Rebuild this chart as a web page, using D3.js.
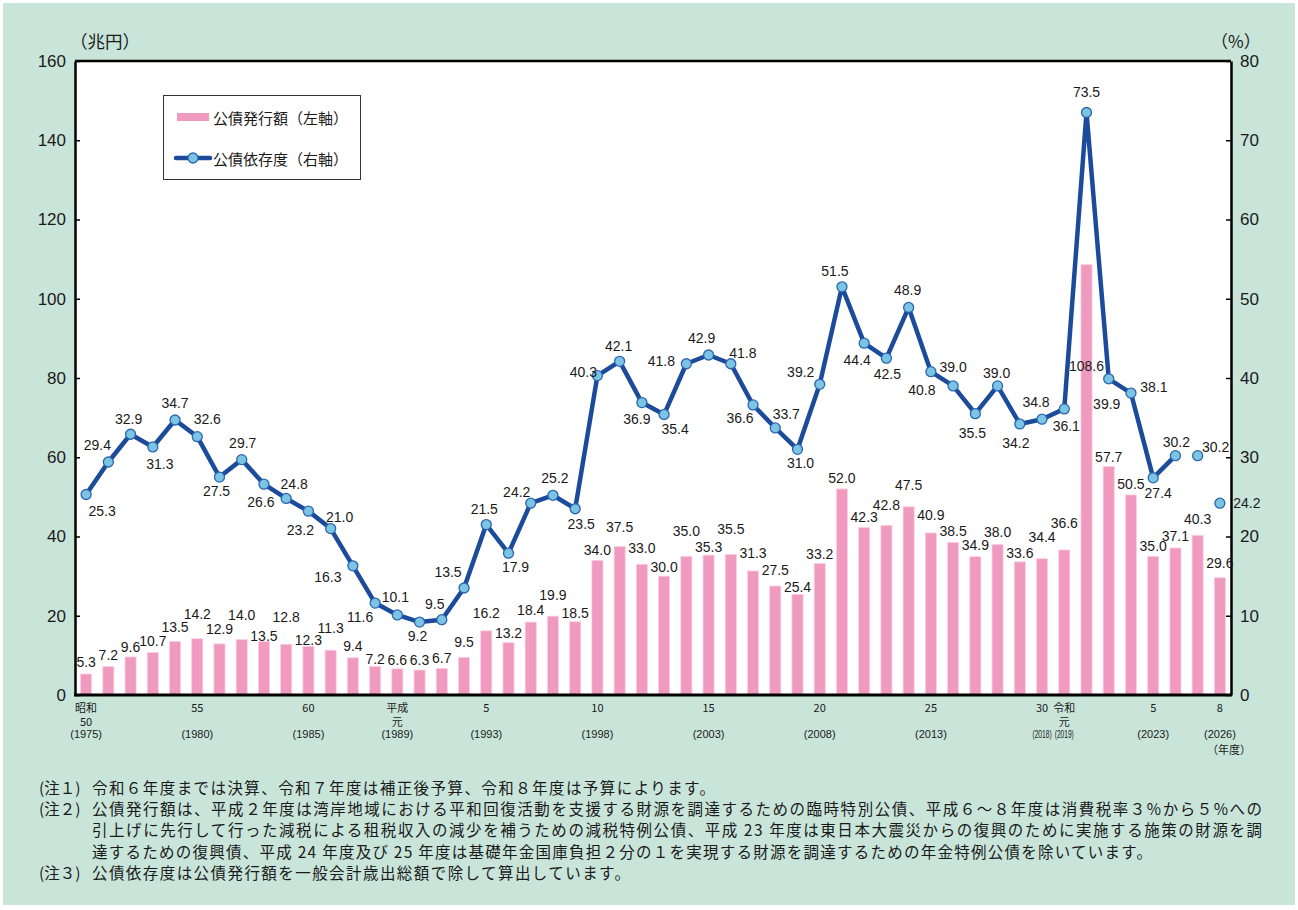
<!DOCTYPE html>
<html>
<head>
<meta charset="utf-8">
<script src="https://cdn.jsdelivr.net/npm/d3@7"></script>
<style>
  body { margin: 0; background: #fff; }
  text { font-family: "Liberation Sans", Arial, sans-serif; fill: #1a1a1a; }
  .jp { font-family: "Noto Sans CJK JP", sans-serif; }
</style>
</head>
<body>
<svg id="chart" width="1298" height="910"></svg>
<script>
// 年度 (1975 = 昭和50 ... 2026 = 令和8)
const years = d3.range(1975, 2027);

// 公債発行額（兆円）
const issuance = [
  5.3, 7.2, 9.6, 10.7, 13.5, 14.2, 12.9, 14.0, 13.5, 12.8,
  12.3, 11.3, 9.4, 7.2, 6.6, 6.3, 6.7, 9.5, 16.2, 13.2,
  18.4, 19.9, 18.5, 34.0, 37.5, 33.0, 30.0, 35.0, 35.3, 35.5,
  31.3, 27.5, 25.4, 33.2, 52.0, 42.3, 42.8, 47.5, 40.9, 38.5,
  34.9, 38.0, 33.6, 34.4, 36.6, 108.6, 57.7, 50.5, 35.0, 37.1,
  40.3, 29.6
];

// 公債依存度（%）
const ratio = [
  25.3, 29.4, 32.9, 31.3, 34.7, 32.6, 27.5, 29.7, 26.6, 24.8,
  23.2, 21.0, 16.3, 11.6, 10.1, 9.2, 9.5, 13.5, 21.5, 17.9,
  24.2, 25.2, 23.5, 40.3, 42.1, 36.9, 35.4, 41.8, 42.9, 41.8,
  36.6, 33.7, 31.0, 39.2, 51.5, 44.4, 42.5, 48.9, 40.8, 39.0,
  35.5, 39.0, 34.2, 34.8, 36.1, 73.5, 39.9, 38.1, 27.4, 30.2,
  30.2, 24.2
];
// 決算値は折れ線でつなぐ（令和6年度まで）
const lastSettledYear = 2024;

const leftTicks = [0, 20, 40, 60, 80, 100, 120, 140, 160];
const rightTicks = [0, 10, 20, 30, 40, 50, 60, 70, 80];

const xTickYears = [1975, 1980, 1985, 1989, 1993, 1998, 2003, 2008, 2013, 2018, 2019, 2023, 2026];
const xTickEra = ["昭和", "", "", "平成", "", "", "", "", "", "", "令和", "", ""];
const xTickNum = ["50", "55", "60", "元", "5", "10", "15", "20", "25", "30", "元", "5", "8"];
const xTickWestern = ["(1975)", "(1980)", "(1985)", "(1989)", "(1993)", "(1998)", "(2003)", "(2008)", "(2013)", "(2018)", "(2019)", "(2023)", "(2026)"];

const notes = [
  ["(注１)", "令和６年度までは決算、令和７年度は補正後予算、令和８年度は予算によります。"],
  ["(注２)", "公債発行額は、平成２年度は湾岸地域における平和回復活動を支援する財源を調達するための臨時特別公債、平成６～８年度は消費税率３%から５%への"],
  ["", "引上げに先行して行った減税による租税収入の減少を補うための減税特例公債、平成 23 年度は東日本大震災からの復興のために実施する施策の財源を調"],
  ["", "達するための復興債、平成 24 年度及び 25 年度は基礎年金国庫負担２分の１を実現する財源を調達するための年金特例公債を除いています。"],
  ["(注３)", "公債依存度は公債発行額を一般会計歳出総額で除して算出しています。"]
];
// widths the note lines run to in the original layout
const noteWidths = [623, 1170, 1170, 1060, 538];

// label nudges (px) so the numbers don't collide
const barLabelLift = [
  1, 0, -1, 1, 4, 14, 4, 14, -5, 16,
  -5, 11, 1, -4, -2, -1, -1, 4, 7, -1,
  1, 10, -2, -1, 8, 5, -2, 14, -3, 14,
  7, 5, -4, -2, 0, -1, 9, 11, 7, 0,
  1, 1, -2, 11, 16, -112, -2, 0, -1, 1,
  5, 4
];
const ratioLabelDx = [
  16, -11, -2, 7, 0, 10, -3, 1, -3, 8,
  -8, 9, -25, -15, -2, -2, -7, -16, -2, 7,
  -14, 2, 6, -14, -1, -5, 11, -25, -7, 12,
  -13, 11, 3, -19, -7, -7, 1, -1, -9, 0,
  -3, -1, -4, -6, 2, 0, -2, 23, 5, 1,
  18, 27
];
const ratioLabelDy = [
  17, -17, -15, 17, -17, -18, 14, -17, 18, -14,
  19, -12, 11, 14, -18, 14, -16, -16, -16, 14,
  -11, -17, 15, -4, -15, 16, 15, -3, -17, -11,
  13, -14, 14, -12, -16, 17, 16, -17, 18, -19,
  19, -13, 19, -17, 17, -21, 25, -6, 15, -14,
  -9, 0
];

const svg = d3.select("#chart");
const plot = { left: 75, right: 1231, top: 61, bottom: 695 };

const pink = "#f09ac0";
const blue = "#1c4b9c";
const dot = "#7cc4e4";

svg.append("rect")
  .attr("x", 3).attr("y", 3).attr("width", 1292).attr("height", 902)
  .attr("fill", "#c9e5da");
svg.append("rect")
  .attr("x", plot.left).attr("y", plot.top)
  .attr("width", plot.right - plot.left).attr("height", plot.bottom - plot.top)
  .attr("fill", "#fff");

const x = d3.scaleBand().domain(years).range([plot.left, plot.right])
  .paddingInner(0.5).paddingOuter(0.25);
const yL = d3.scaleLinear().domain([0, 160]).range([plot.bottom, plot.top]);
const yR = d3.scaleLinear().domain([0, 80]).range([plot.bottom, plot.top]);
const cx = yr => x(yr) + x.bandwidth() / 2;

const data = years.map((yr, i) => ({
  year: yr, issuance: issuance[i], ratio: ratio[i],
  lift: barLabelLift[i], dx: ratioLabelDx[i], dy: ratioLabelDy[i]
}));

// bars
svg.append("g").selectAll("rect").data(data).join("rect")
  .attr("x", d => x(d.year))
  .attr("y", d => yL(d.issuance))
  .attr("width", x.bandwidth())
  .attr("height", d => yL(0) - yL(d.issuance))
  .attr("fill", pink)
  .attr("stroke", "#fbd0e2").attr("stroke-width", 0.8);

// axes
const leftAxis = svg.append("g")
  .attr("transform", `translate(${plot.left},0)`)
  .call(d3.axisLeft(yL).tickValues(leftTicks).tickSizeInner(-5).tickSizeOuter(0).tickPadding(9));
const rightAxis = svg.append("g")
  .attr("transform", `translate(${plot.right},0)`)
  .call(d3.axisRight(yR).tickValues(rightTicks).tickSizeInner(-5).tickSizeOuter(0).tickPadding(9));
[leftAxis, rightAxis].forEach(a => {
  a.select(".domain").attr("stroke", "#000").attr("stroke-width", 2.5);
  a.selectAll(".tick line").attr("stroke", "#000").attr("stroke-width", 1.5);
  a.selectAll(".tick text").attr("font-size", 17).attr("fill", "#111")
    .style("font-family", "'Liberation Sans', Arial, sans-serif");
});
svg.append("line")
  .attr("x1", plot.left).attr("x2", plot.right)
  .attr("y1", plot.top).attr("y2", plot.top)
  .attr("stroke", "#000").attr("stroke-width", 2.5);
svg.append("line")
  .attr("x1", plot.left - 1).attr("x2", plot.right + 1)
  .attr("y1", plot.bottom).attr("y2", plot.bottom)
  .attr("stroke", "#000").attr("stroke-width", 3);

// bar labels
svg.append("g").selectAll("text").data(data).join("text")
  .attr("x", d => cx(d.year))
  .attr("y", d => yL(d.issuance) - 11 - d.lift)
  .attr("text-anchor", "middle")
  .attr("dominant-baseline", "central")
  .attr("font-size", 14)
  .text(d => d.issuance.toFixed(1));

// ratio line
const line = d3.line()
  .defined(d => d.year <= lastSettledYear)
  .x(d => cx(d.year))
  .y(d => yR(d.ratio));
svg.append("path")
  .datum(data)
  .attr("d", line)
  .attr("fill", "none")
  .attr("stroke", blue)
  .attr("stroke-width", 4.5)
  .attr("stroke-linejoin", "round");

svg.append("g").selectAll("circle").data(data).join("circle")
  .attr("cx", d => cx(d.year))
  .attr("cy", d => yR(d.ratio))
  .attr("r", 5)
  .attr("fill", dot)
  .attr("stroke", "#2a66b0").attr("stroke-width", 1.3);

svg.append("g").selectAll("text").data(data).join("text")
  .attr("x", d => cx(d.year) + d.dx)
  .attr("y", d => yR(d.ratio) + d.dy)
  .attr("text-anchor", "middle")
  .attr("dominant-baseline", "central")
  .attr("font-size", 14)
  .text(d => d.ratio.toFixed(1));

// x axis labels
const xt = svg.append("g").selectAll("g").data(xTickYears).join("g")
  .attr("transform", d => `translate(${cx(d)},0)`);
xt.append("text").attr("class", "jp")
  .attr("y", 707).attr("text-anchor", "middle").attr("dominant-baseline", "central")
  .attr("font-size", 11)
  .text((d, i) => xTickEra[i] || xTickNum[i]);
xt.append("text").attr("class", "jp")
  .attr("y", 721).attr("text-anchor", "middle").attr("dominant-baseline", "central")
  .attr("font-size", 11)
  .text((d, i) => xTickEra[i] ? xTickNum[i] : "");
xt.append("text")
  .attr("text-anchor", "middle").attr("dominant-baseline", "central")
  .attr("font-size", 11)
  .each(function (d, i) {
    const t = d3.select(this).text(xTickWestern[i]);
    // 2018 and 2019 sit side by side, so squeeze them
    if (d === 2018 || d === 2019) t.attr("font-size", 10).attr("transform", "translate(0,734) scale(0.66,1)");
    else t.attr("y", 734);
  });
svg.append("text").attr("class", "jp")
  .attr("x", 1229).attr("y", 749).attr("text-anchor", "middle").attr("dominant-baseline", "central")
  .attr("font-size", 11).text("（年度）");

// unit labels
svg.append("text").attr("class", "jp")
  .attr("x", 70).attr("y", 40).attr("dominant-baseline", "central")
  .attr("font-size", 17.5).text("（兆円）");
svg.append("text").attr("class", "jp")
  .attr("x", 1211).attr("y", 40).attr("dominant-baseline", "central")
  .attr("font-size", 17).text("（%）");

// legend
const lg = svg.append("g");
lg.append("rect").attr("x", 163.5).attr("y", 95.5).attr("width", 197).attr("height", 84)
  .attr("fill", "#fff").attr("stroke", "#333").attr("stroke-width", 1);
lg.append("rect").attr("x", 177).attr("y", 113).attr("width", 32).attr("height", 8).attr("fill", pink);
lg.append("text").attr("class", "jp").attr("x", 213).attr("y", 117)
  .attr("dominant-baseline", "central").attr("font-size", 15).text("公債発行額（左軸）");
lg.append("line").attr("x1", 176).attr("x2", 210).attr("y1", 158).attr("y2", 158)
  .attr("stroke", blue).attr("stroke-width", 4.5).attr("stroke-linecap", "round");
lg.append("circle").attr("cx", 193).attr("cy", 158).attr("r", 5)
  .attr("fill", dot).attr("stroke", "#2a66b0").attr("stroke-width", 1.3);
lg.append("text").attr("class", "jp").attr("x", 213).attr("y", 158)
  .attr("dominant-baseline", "central").attr("font-size", 15).text("公債依存度（右軸）");

// notes
const ng = svg.append("g");
notes.forEach(([head, body], i) => {
  const yy = 787 + i * 21.2;
  if (head) ng.append("text").attr("class", "jp").attr("x", 39).attr("y", yy)
    .attr("dominant-baseline", "central").attr("font-size", 15.5).text(head);
  ng.append("text").attr("class", "jp").attr("x", 92).attr("y", yy)
    .attr("dominant-baseline", "central").attr("font-size", 15.5)
    .attr("textLength", noteWidths[i]).attr("lengthAdjust", "spacing").text(body);
});
</script>
</body>
</html>
